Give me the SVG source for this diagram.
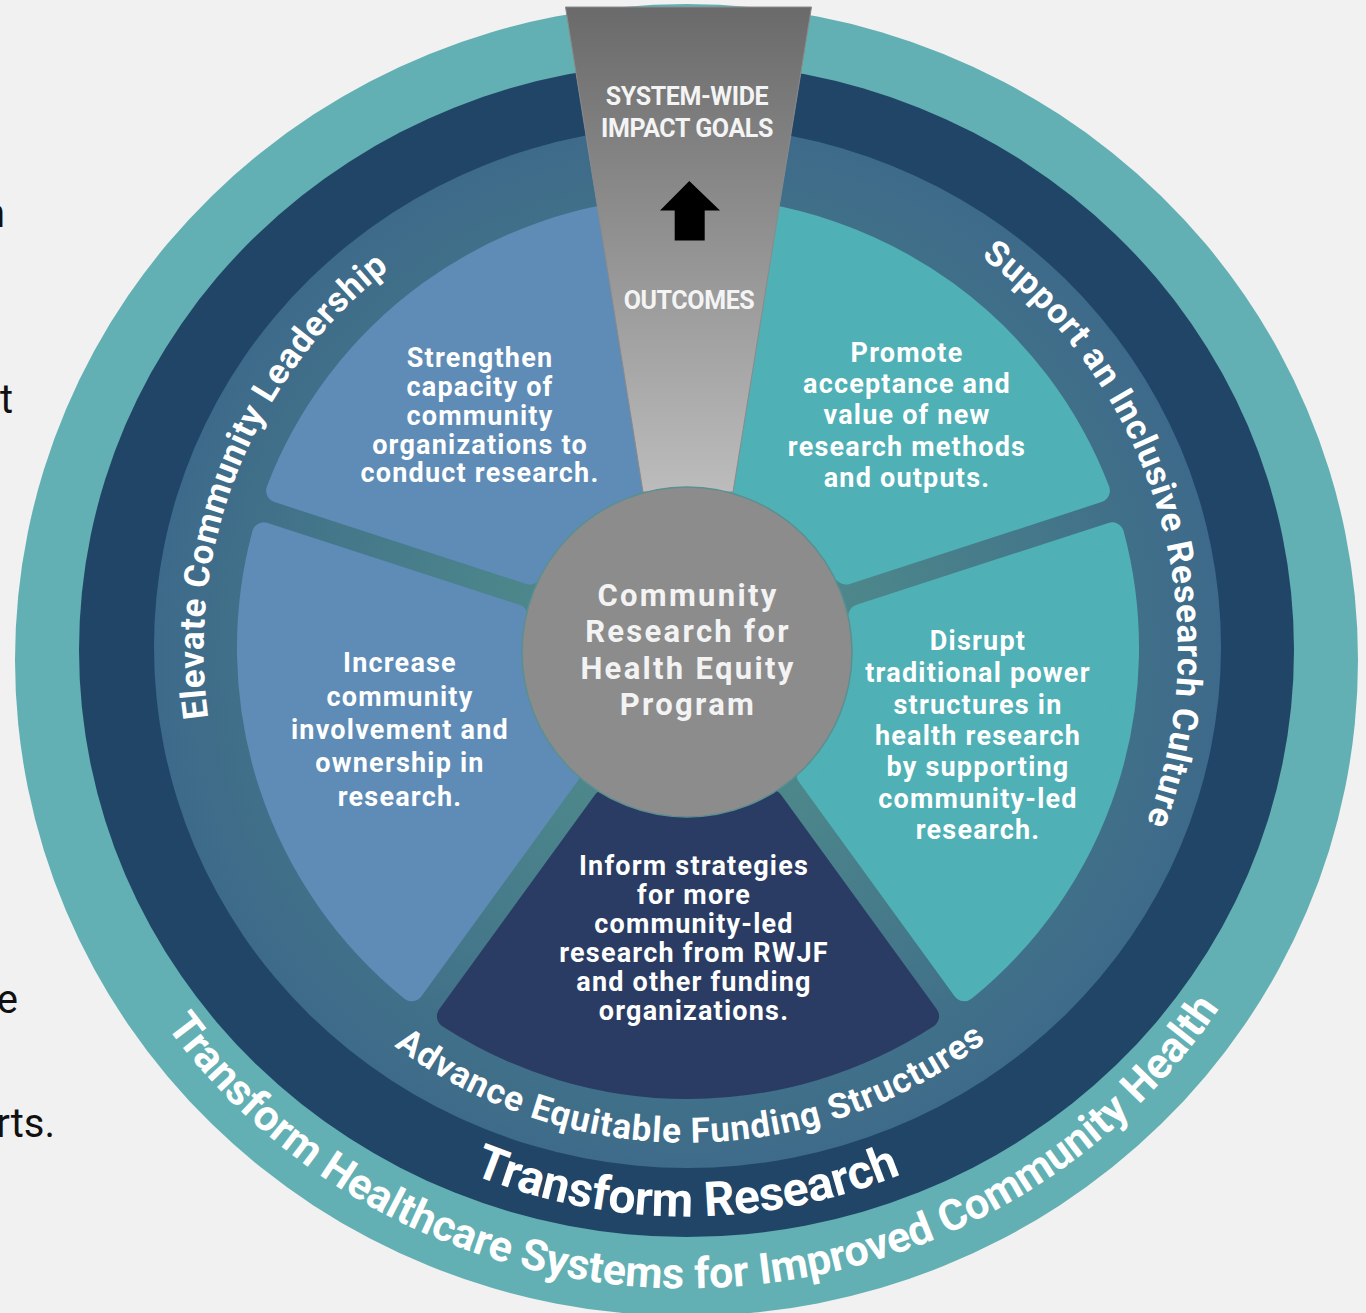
<svg xmlns="http://www.w3.org/2000/svg" width="1366" height="1313" viewBox="0 0 1366 1313">
  <defs>
    <style>
      .seg { stroke-width: 24; stroke-linejoin: round; }
      .segtxt { font-family: Roboto, 'Liberation Sans', sans-serif; font-weight: 700; font-size: 27px; fill: #ffffff; text-anchor: middle; letter-spacing: 1.2px; }
      .ctxt { font-family: Roboto, 'Liberation Sans', sans-serif; font-weight: 700; font-size: 31px; fill: #f3f3f3; text-anchor: middle; letter-spacing: 2.3px; }
      .ftxt { font-family: Roboto, 'Liberation Sans', sans-serif; font-weight: 700; font-size: 25px; fill: #f4f4f4; text-anchor: middle; letter-spacing: -0.4px; }
      .ring { font-family: Roboto, 'Liberation Sans', sans-serif; font-weight: 700; fill: #ffffff; }
      .edge { font-family: Roboto, 'Liberation Sans', sans-serif; font-weight: 400; font-size: 40px; fill: #111111; text-anchor: end; }
    </style>
    <radialGradient id="midGrad" gradientUnits="userSpaceOnUse" cx="687" cy="650" r="533">
      <stop offset="0" stop-color="#4f8b8c"/>
      <stop offset="0.35" stop-color="#4c868b"/>
      <stop offset="0.7" stop-color="#44778a"/>
      <stop offset="0.86" stop-color="#406f89"/>
      <stop offset="1" stop-color="#3d6a8a"/>
    </radialGradient>
    <linearGradient id="funnelGrad" gradientUnits="userSpaceOnUse" x1="0" y1="7" x2="0" y2="492">
      <stop offset="0" stop-color="#6a6a6a"/>
      <stop offset="1" stop-color="#bcbcbc"/>
    </linearGradient>
    <path id="segShape" d="M154,-83.5 L368.2,-239.1 A439,439 0 0,1 368.2,239.1 L154,83.5 Z"/>
    <path id="pLeft" d="M467.3,1081.2 A484,484 0 0,1 828.5,187.2"/>
    <path id="pRight" d="M588.3,169 A491,491 0 0,1 867.7,1106.5"/>
    <path id="pBottom" d="M196.9,693.9 A492,492 0 0,0 1177.1,693.9"/>
    <path id="pBand" d="M123.2,700.3 A566,566 0 0,0 1250.8,700.3"/>
    <path id="pOuter" d="M48.9,714.7 A640,628 0 0,0 1324.1,714.7"/>
  </defs>

  <rect x="0" y="0" width="1366" height="1313" fill="#f1f1f1"/>

  <g id="edge-text">
    <text class="edge" x="5" y="227" fill="#777">n</text>
    <text class="edge" x="13" y="413">t</text>
    <text class="edge" x="18" y="1013">e</text>
    <text class="edge" x="55" y="1137">rts.</text>
  </g>

  <g id="ring-outer">
    <ellipse cx="686.5" cy="660" rx="671.5" ry="656" fill="#62b0b3"/>
    <text class="ring" font-size="43"><textPath href="#pOuter" startOffset="50.6%" text-anchor="middle">Transform Healthcare Systems for Improved Community Health</textPath></text>
  </g>

  <g id="ring-research">
    <ellipse cx="686.5" cy="650" rx="607.5" ry="587" fill="#214567"/>
    <text class="ring" font-size="48"><textPath href="#pBand" startOffset="50%" text-anchor="middle">Transform Research</textPath></text>
  </g>

  <g id="ring-strategies">
    <ellipse cx="687.5" cy="647" rx="533.5" ry="521" fill="url(#midGrad)"/>
    <text class="ring" font-size="35" letter-spacing="0.7"><textPath href="#pLeft" startOffset="50%" text-anchor="middle">Elevate Community Leadership</textPath></text>
    <text class="ring" font-size="35" letter-spacing="0.85"><textPath href="#pRight" startOffset="50.2%" text-anchor="middle">Support an Inclusive Research Culture</textPath></text>
    <text class="ring" font-size="35" letter-spacing="1"><textPath href="#pBottom" startOffset="50.3%" text-anchor="middle">Advance Equitable Funding Structures</textPath></text>
  </g>

  <g id="seg-capacity">
    <use href="#segShape" class="seg" fill="#5e8cb6" stroke="#5e8cb6" transform="translate(688,648) rotate(234)"/>
    <text class="segtxt"><tspan x="480" y="367">Strengthen</tspan><tspan x="480" y="396">capacity of</tspan><tspan x="480" y="425">community</tspan><tspan x="480" y="454">organizations to</tspan><tspan x="480" y="482">conduct research.</tspan></text>
  </g>

  <g id="seg-involvement">
    <use href="#segShape" class="seg" fill="#5e8cb6" stroke="#5e8cb6" transform="translate(688,648) rotate(162)"/>
    <text class="segtxt"><tspan x="400" y="672">Increase</tspan><tspan x="400" y="705.5">community</tspan><tspan x="400" y="739">involvement and</tspan><tspan x="400" y="772">ownership in</tspan><tspan x="400" y="805.5">research.</tspan></text>
  </g>

  <g id="seg-funding">
    <use href="#segShape" class="seg" fill="#2a3c63" stroke="#2a3c63" transform="translate(688,648) rotate(90)"/>
    <text class="segtxt"><tspan x="694" y="875">Inform strategies</tspan><tspan x="694" y="904">for more</tspan><tspan x="694" y="933">community-led</tspan><tspan x="694" y="962">research from RWJF</tspan><tspan x="694" y="991">and other funding</tspan><tspan x="694" y="1020">organizations.</tspan></text>
  </g>

  <g id="seg-power">
    <use href="#segShape" class="seg" fill="#4fb0b5" stroke="#4fb0b5" transform="translate(688,648) rotate(18)"/>
    <text class="segtxt"><tspan x="978" y="650">Disrupt</tspan><tspan x="978" y="682">traditional power</tspan><tspan x="978" y="714">structures in</tspan><tspan x="978" y="745">health research</tspan><tspan x="978" y="776">by supporting</tspan><tspan x="978" y="808">community-led</tspan><tspan x="978" y="839">research.</tspan></text>
  </g>

  <g id="seg-methods">
    <use href="#segShape" class="seg" fill="#4fb0b5" stroke="#4fb0b5" transform="translate(688,648) rotate(306)"/>
    <text class="segtxt"><tspan x="907" y="362">Promote</tspan><tspan x="907" y="393">acceptance and</tspan><tspan x="907" y="424">value of new</tspan><tspan x="907" y="456">research methods</tspan><tspan x="907" y="487">and outputs.</tspan></text>
  </g>

  <g id="funnel">
    <polygon points="565.5,7 811.5,7 733,492 643,492" fill="url(#funnelGrad)" stroke="#8a8a8a" stroke-width="1"/>
    <text class="ftxt"><tspan x="687" y="105">SYSTEM-WIDE</tspan><tspan x="687" y="136.5">IMPACT GOALS</tspan></text>
    <text class="ftxt" x="689" y="309">OUTCOMES</text>
  </g>

  <g id="connectors">
    <polygon points="689.3,181 720,210.5 704.7,210.5 704.7,240.5 674.7,240.5 674.7,210.5 660,210.5" fill="#000000"/>
  </g>

  <g id="center">
    <circle cx="687" cy="652" r="165" fill="#8c8c8c" stroke="#5b8f90" stroke-width="1.5"/>
    <text class="ctxt"><tspan x="688" y="606">Community</tspan><tspan x="688" y="642">Research for</tspan><tspan x="688" y="679">Health Equity</tspan><tspan x="688" y="715">Program</tspan></text>
  </g>
</svg>
